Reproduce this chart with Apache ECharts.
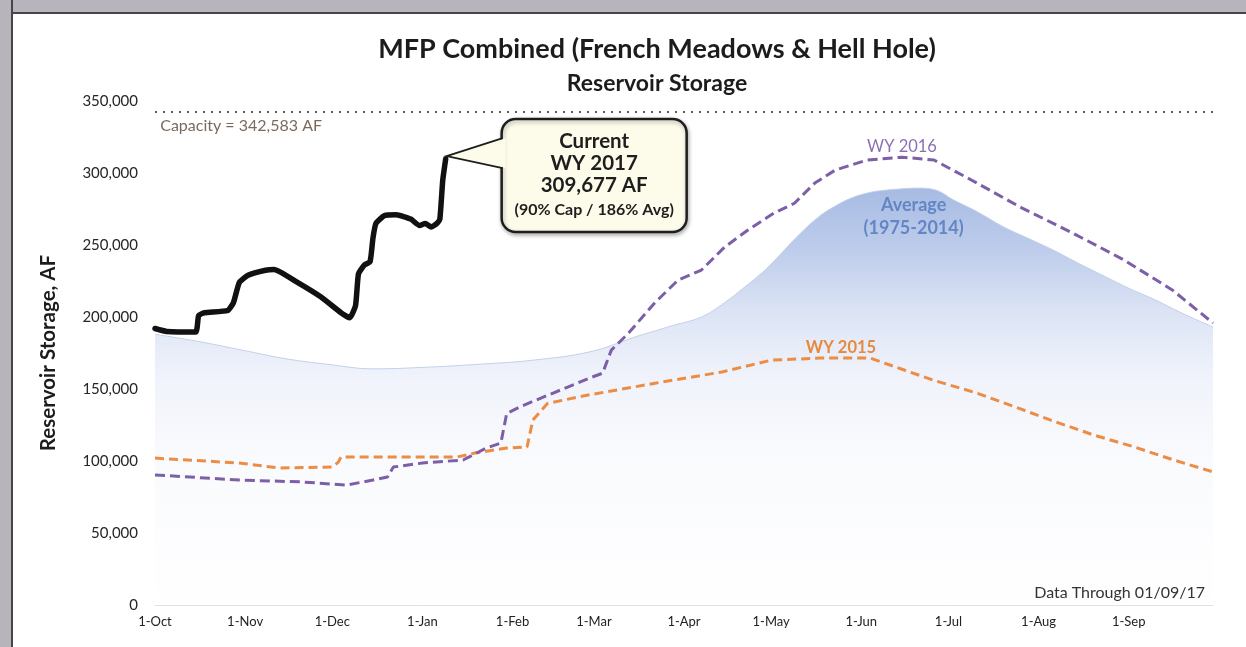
<!DOCTYPE html>
<html>
<head>
<meta charset="utf-8">
<title>MFP Combined Reservoir Storage</title>
<script src="https://cdn.jsdelivr.net/npm/echarts@6/dist/echarts.min.js"></script>
<style>
    html, body { margin: 0; padding: 0; width: 1246px; height: 647px; overflow: hidden; background: #fff; }
    #bandTop { position: absolute; left: 0; top: 0; width: 1246px; height: 12px; background: #b7b4bb; border-bottom: 2px solid #474549; }
    #bandLeft { position: absolute; left: 0; top: 0; width: 11px; height: 647px; background: #b7b4bb; border-right: 2px solid #474549; }
    #main { position: absolute; left: 0; top: 0; width: 1246px; height: 647px; }
</style>
</head>
<body>
<div id="bandTop"></div>
<div id="bandLeft"></div>
<div id="main"></div>
<script>
// x = days since 1-Oct
var monthDays = [0, 31, 61, 92, 123, 151, 182, 212, 243, 273, 304, 335];
var monthLabels = ['1-Oct', '1-Nov', '1-Dec', '1-Jan', '1-Feb', '1-Mar', '1-Apr', '1-May', '1-Jun', '1-Jul', '1-Aug', '1-Sep'];

var capacity = 342583;
var currentDay = 100;      // 01/09/17
var currentVal = 309677;

// WY 2017 (current)
var wy2017Days = [0, 4, 14, 15, 17, 25, 27, 29, 32, 38, 41, 49, 57, 64, 67, 69, 70, 72, 74, 75, 76, 79, 83, 88, 91, 93, 95, 97, 98, 99, 100];
var wy2017Vals = [192000, 190000, 189500, 201000, 203000, 204500, 210000, 224000, 229000, 232500, 233000, 224000, 214000, 203000, 199500, 208000, 230000, 236000, 238500, 255000, 265000, 270500, 271000, 268000, 263500, 265000, 262500, 265000, 268000, 295000, 309677];

// Average (1975-2014)
var avgDays = [0, 15, 30, 45, 60, 75, 92, 110, 130, 150, 165, 178, 188, 196, 203, 209, 214, 221, 228, 234, 240, 246, 251, 257, 262, 268, 275, 283, 292, 300, 309, 318, 327, 335, 344, 354, 364];
var avgVals = [188000, 183000, 177000, 171000, 167000, 164000, 165000, 167000, 170000, 176000, 186000, 194000, 200000, 210000, 221000, 231000, 241000, 256000, 269000, 277000, 283000, 286500, 288000, 289000, 289500, 288500, 281000, 273000, 262500, 255000, 246500, 237000, 228000, 220000, 212000, 202000, 193000];

// WY 2016
var wy2016Days = [0, 29, 50, 66, 75, 80, 82, 92, 106, 114, 119, 121, 126, 137, 150, 154, 157, 163, 172, 180, 188, 196, 204, 213, 220, 227, 234, 245, 257, 268, 281, 298, 316, 333, 350, 364];
var wy2016Vals = [90300, 86800, 85500, 83300, 86800, 88900, 95800, 98600, 100700, 109000, 112500, 133000, 138000, 147200, 158000, 161000, 177000, 189000, 210000, 225700, 232600, 248600, 260400, 272200, 279000, 293000, 302000, 309000, 311000, 309000, 295000, 276000, 258000, 240000, 218800, 195800];

// WY 2015
var wy2015Days = [0, 29, 43, 61, 63, 64, 87, 104, 110, 121, 128, 130, 135, 149, 172, 195, 212, 229, 246, 258, 268, 283, 298, 308, 323, 337, 350, 364];
var wy2015Vals = [102000, 98600, 95100, 95800, 99000, 102800, 102800, 102800, 105500, 109000, 109700, 128500, 140000, 145800, 154000, 161800, 170000, 171500, 171500, 163000, 156000, 147000, 136000, 128500, 118000, 109700, 101000, 92400];

function pairs(days, vals) {
    return days.map(function (d, i) { return [d, vals[i]]; });
}

function commas(v) {
    return String(v).replace(/\B(?=(\d{3})+(?!\d))/g, ',');
}

var FONT = 'Lato, "Open Sans", sans-serif';

var chart = echarts.init(document.getElementById('main'));

var option = {
    animation: false,
    title: {
        text: 'MFP Combined (French Meadows & Hell Hole)',
        subtext: 'Reservoir Storage',
        left: 652,
        textAlign: 'center',
        top: 31,
        itemGap: 9,
        textStyle: { fontFamily: FONT, fontSize: 27, fontWeight: 'bold', color: '#1c1c1c' },
        subtextStyle: { fontFamily: FONT, fontSize: 23, fontWeight: 'bold', color: '#1c1c1c' }
    },
    grid: { left: 155, right: 33, top: 101, bottom: 42 },
    xAxis: {
        type: 'value',
        min: 0,
        max: 364,
        splitLine: { show: false },
        axisLine: { show: true, lineStyle: { color: '#e2e2e6', width: 1 } },
        axisTick: { show: false },
        axisLabel: {
            customValues: monthDays,
            margin: 10,
            fontFamily: FONT,
            fontSize: 13,
            color: '#222',
            formatter: function (v) {
                var i = monthDays.indexOf(v);
                return i >= 0 ? monthLabels[i] : '';
            }
        }
    },
    yAxis: {
        type: 'value',
        min: 0,
        max: 350000,
        interval: 50000,
        name: 'Reservoir Storage, AF',
        nameLocation: 'middle',
        nameRotate: 90,
        nameGap: 96,
        nameTextStyle: { fontFamily: FONT, fontSize: 20.5, fontWeight: 'bold', color: '#1c1c1c' },
        splitLine: { show: false },
        axisLine: { show: false },
        axisTick: { show: false },
        axisLabel: {
            margin: 17,
            fontFamily: FONT,
            fontSize: 15,
            color: '#262626',
            formatter: function (v) { return commas(v); }
        }
    },
    series: [
        {
            name: 'Average (1975-2014)',
            type: 'line',
            data: pairs(avgDays, avgVals),
            smooth: 0.4,
            symbol: 'none',
            z: 1,
            lineStyle: { width: 1, color: '#c3cfea' },
            areaStyle: {
                color: new echarts.graphic.LinearGradient(0, 0, 0, 1, [
                    { offset: 0, color: 'rgba(122,152,212,0.95)' },
                    { offset: 0.15, color: 'rgba(145,170,222,0.85)' },
                    { offset: 0.3, color: 'rgba(188,203,235,0.75)' },
                    { offset: 0.45, color: 'rgba(222,229,246,0.68)' },
                    { offset: 0.65, color: 'rgba(240,243,250,0.55)' },
                    { offset: 1, color: 'rgba(252,252,255,0.3)' }
                ])
            },
            markLine: {
                silent: true,
                symbol: 'none',
                label: { show: false },
                lineStyle: { type: [2, 6], color: '#5e5a58', width: 2.2 },
                data: [{ yAxis: capacity }]
            },
            markPoint: {
                silent: true,
                symbol: 'rect',
                symbolSize: 0,
                data: [
                    {
                        coord: [1.8, 332600],
                        label: {
                            show: true, position: 'inside', align: 'left',
                            formatter: 'Capacity = ' + commas(capacity) + ' AF',
                            fontFamily: FONT, fontSize: 16, color: '#7a6a5e'
                        }
                    },
                    {
                        coord: [261, 270000],
                        label: {
                            show: true, position: 'inside',
                            formatter: 'Average\n(1975-2014)',
                            lineHeight: 23,
                            fontFamily: FONT, fontSize: 18, fontWeight: 'bold', color: '#6486c4'
                        }
                    }
                ]
            }
        },
        {
            name: 'WY 2015',
            type: 'line',
            data: pairs(wy2015Days, wy2015Vals),
            symbol: 'none',
            z: 3,
            lineStyle: { width: 3, color: '#ec8c45', type: [9, 5] },
            markPoint: {
                silent: true,
                symbol: 'rect',
                symbolSize: 0,
                data: [{
                    coord: [236, 179000],
                    label: {
                        show: true, position: 'inside', formatter: 'WY 2015',
                        fontFamily: FONT, fontSize: 16.5, fontWeight: 'bold', color: '#e68a40'
                    }
                }]
            }
        },
        {
            name: 'WY 2016',
            type: 'line',
            data: pairs(wy2016Days, wy2016Vals),
            symbol: 'none',
            z: 4,
            lineStyle: { width: 3, color: '#7d5fa8', type: [10, 5] },
            markPoint: {
                silent: true,
                symbol: 'rect',
                symbolSize: 0,
                data: [{
                    coord: [257, 318400],
                    label: {
                        show: true, position: 'inside', formatter: 'WY 2016',
                        fontFamily: FONT, fontSize: 16.5, color: '#8c70b5'
                    }
                }]
            }
        },
        {
            name: 'WY 2017',
            type: 'line',
            data: pairs(wy2017Days, wy2017Vals),
            symbol: 'none',
            smooth: 0.15,
            z: 5,
            lineStyle: { width: 5.5, color: '#111', cap: 'round', join: 'round' }
        }
    ]
};

chart.setOption(option);

// callout box next to the current value
var tip = chart.convertToPixel({ gridIndex: 0 }, [currentDay, currentVal]);
var corner = chart.convertToPixel({ gridIndex: 0 }, [364, 0]);
var bx = tip[0] + 56, by = tip[1] - 40, bw = 185, bh = 113;
var cx = bx + bw / 2;

function txt(x, y, s, size, align, color, weight) {
    return {
        type: 'text', z: 110, x: x, y: y,
        style: {
            text: s, fill: color || '#1e1e1e',
            font: (weight || 'bold') + ' ' + size + 'px ' + FONT,
            align: align || 'center', verticalAlign: 'middle',
            textAlign: align || 'center', textVerticalAlign: 'middle'
        }
    };
}

chart.setOption({
    graphic: [
        {
            type: 'rect', z: 100,
            shape: { x: bx, y: by, width: bw, height: bh, r: 14 },
            style: { fill: '#fdfbea', stroke: '#1e1e1e', lineWidth: 2.5, shadowBlur: 4, shadowColor: 'rgba(0,0,0,0.3)', shadowOffsetX: 1, shadowOffsetY: 2 }
        },
        {
            type: 'polygon', z: 101,
            shape: { points: [[tip[0] + 2, tip[1] - 3], [bx + 4, by + 19], [bx + 4, by + 49]] },
            style: { fill: '#fdfbea' }
        },
        {
            type: 'polyline', z: 102,
            shape: { points: [[bx + 1, by + 19], [tip[0] + 1, tip[1] - 3], [bx + 1, by + 49]] },
            style: { stroke: '#1e1e1e', lineWidth: 1.8, fill: null }
        },
        txt(cx, by + 22, 'Current', 20.5),
        txt(cx, by + 44, 'WY 2017', 20.5),
        txt(cx, by + 66, commas(currentVal) + ' AF', 20.5),
        txt(cx, by + 91, '(90% Cap / 186% Avg)', 16),
        txt(corner[0] - 8, corner[1] - 12, 'Data Through 01/09/17', 16, 'right', '#333', 'normal')
    ]
});
</script>
</body>
</html>
